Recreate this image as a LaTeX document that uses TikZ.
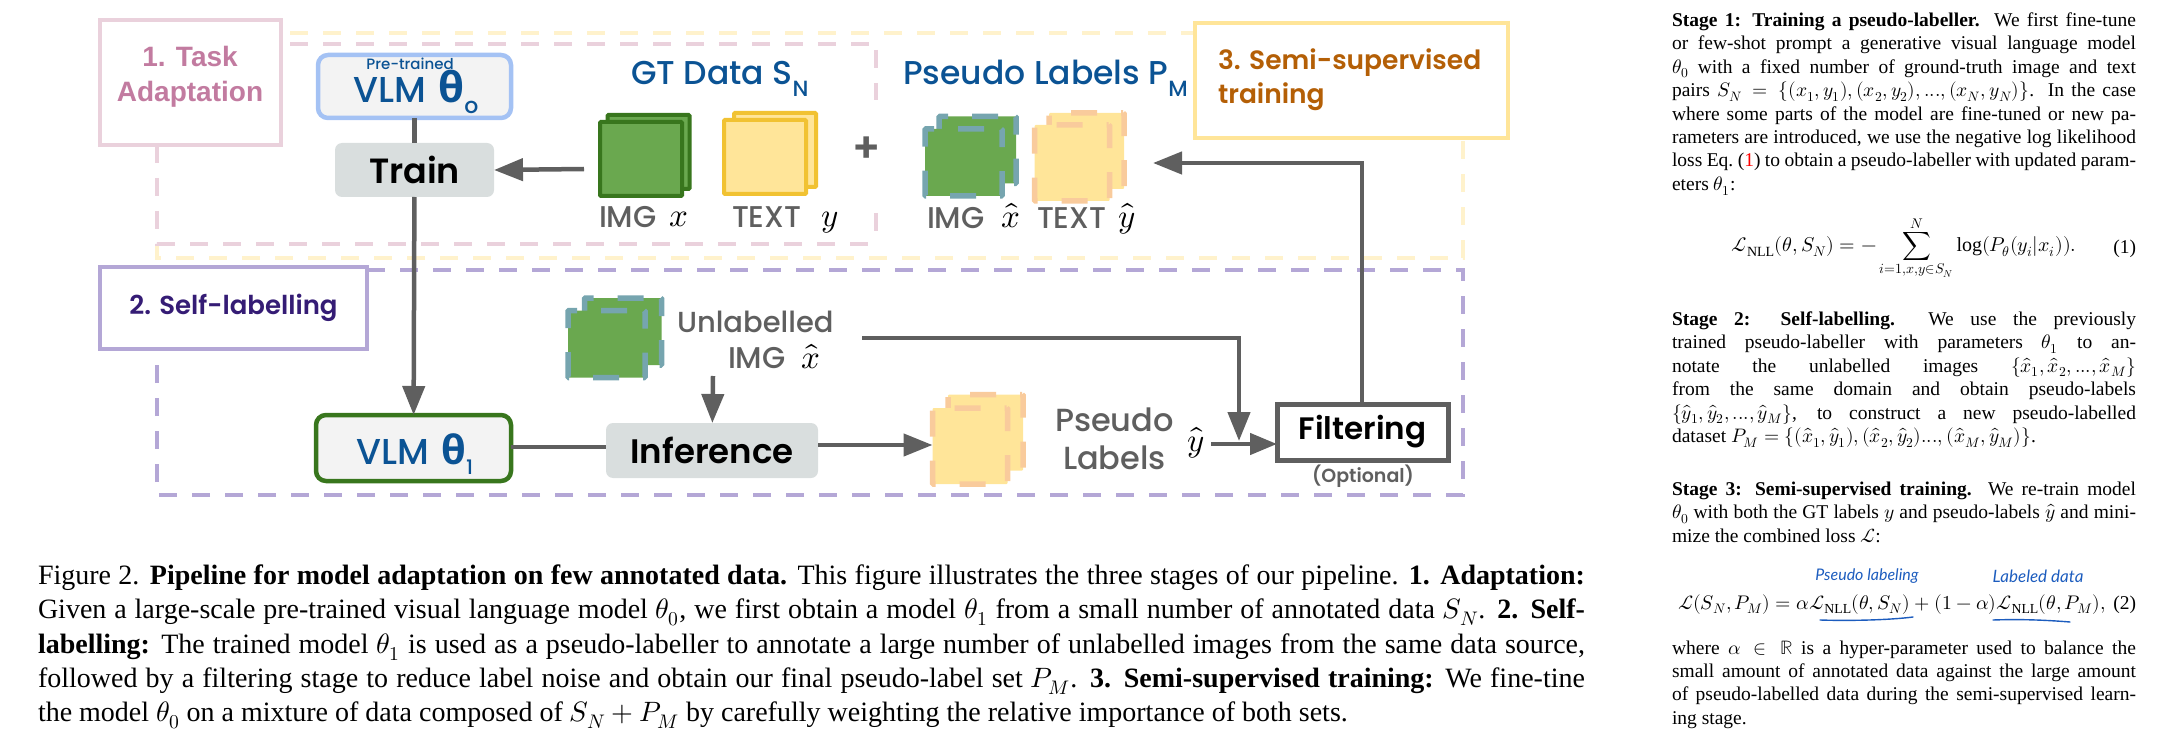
\documentclass[tikz,border=0pt]{standalone}
\usepackage{amsmath}
\usepackage{amssymb}
\usepackage{fontspec}
\usepackage{unicode-math}
\setmainfont{Liberation Serif}
\setmathfont{Latin Modern Math}
\newfontfamily\figfont[BoldFont={Poppins SemiBold}]{Poppins Medium}
\newfontfamily\stagefont{Liberation Sans}
\newfontfamily\thetafont{Open Sans}
\newfontfamily\handfont{Lato}
\usetikzlibrary{arrows.meta}

\definecolor{pinkline}{HTML}{EAD1DC}
\definecolor{pinktext}{HTML}{C27BA0}
\definecolor{yellowdash}{HTML}{FFF2CC}
\definecolor{yellowline}{HTML}{FFE599}
\definecolor{yellowedge}{HTML}{F1C232}
\definecolor{orangetext}{HTML}{B45F06}
\definecolor{orangedash}{HTML}{F9CB9C}
\definecolor{purpleline}{HTML}{B4A7D6}
\definecolor{purpletext}{HTML}{351C75}
\definecolor{bluetext}{HTML}{0B5394}
\definecolor{blueline}{HTML}{A4C2F4}
\definecolor{greenedge}{HTML}{38761D}
\definecolor{greenfill}{HTML}{6AA84F}
\definecolor{tealdash}{HTML}{76A5AF}
\definecolor{flowgrey}{HTML}{5F5F5F}
\definecolor{boxgrey}{HTML}{D9DEDE}
\definecolor{vlmfill}{HTML}{F3F3F3}
\definecolor{penblue}{HTML}{1C5CBE}

\newcommand{\fsz}[1]{\fontsize{#1}{#1}\selectfont}

\tikzset{
  box/.style={rectangle, inner sep=0pt, outer sep=0pt},
  stagebox/.style={box, draw, line width=4pt, fill=white},
  vlm/.style={box, draw, line width=4.5pt, fill=vlmfill, rounded corners=10pt},
  action/.style={box, fill=boxgrey, rounded corners=7pt, text=black},
  card/.style={box, draw, line width=4pt, rounded corners=1pt},
  dashcard/.style={box, draw, line width=5.5pt, rounded corners=1pt},
  greencard/.style={card, draw=greenedge, fill=greenfill, minimum width=82pt, minimum height=74pt},
  yellowcard/.style={card, draw=yellowedge, fill=yellowline, minimum width=82pt, minimum height=74pt},
  tealcard/.style={dashcard, draw=tealdash, fill=greenfill, minimum width=77pt, minimum height=67pt,
    dash pattern=on 26pt off 24pt, dash phase=33pt},
  orangecard/.style={dashcard, draw=orangedash, fill=yellowline, minimum width=75pt, minimum height=76pt,
    dash pattern=on 26pt off 24pt, dash phase=24pt},
  greytext/.style={box, text=flowgrey, font=\figfont},
  frame/.style={line width=4pt, dash pattern=on 18pt off 15pt},
  flow/.style={draw=flowgrey, line width=4.5pt, -{Triangle[length=29pt,width=22pt]}},
  link/.style={draw=flowgrey, line width=4.5pt},
  para/.style={box, anchor=north west, align=justify, text width=464pt, font=\fontsize{19.5}{23.45}\selectfont},
  pen/.style={draw=penblue, line width=1.4pt, line cap=round}
}

\begin{document}
\begin{tikzpicture}[x=1pt,y=-1pt]
  \useasboundingbox (0,0) rectangle (2157,730);

  % Dashed frames
  \draw[frame, draw=yellowdash] (157,145) -- (157,258) -- (1463,258) -- (1463,140);
  \draw[frame, draw=yellowdash] (290,33) -- (1195,33);
  \draw[frame, draw=pinkline] (157,145) -- (157,244) -- (873,244);
  \draw[frame, draw=pinkline] (290,44) -- (870,44);
  \draw[frame, draw=pinkline] (876,50) -- (876,100);
  \draw[frame, draw=pinkline] (876,213) -- (876,232);
  \draw[frame, draw=purpleline] (367,270) -- (1463,270) -- (1463,495) -- (157,495) -- (157,349);

  % Stage boxes
  \node[stagebox, draw=pinkline, minimum width=181pt, minimum height=125pt] (taskbox) at (190.5,82.5) {};
  \node[box, align=center, text=pinktext, font=\stagefont\bfseries\fontsize{28}{35}\selectfont] (tasktext)
    at (190,77) {1. Task\\Adaptation};
  \node[stagebox, draw=purpleline, minimum width=267pt, minimum height=82pt, text=purpletext,
    font=\figfont\fsz{26}] (selfbox) at (233.5,308) {\textbf{2. Self-labelling}};
  \node[stagebox, draw=yellowline, minimum width=313pt, minimum height=115pt] (semibox) at (1351.5,80.5) {};
  \node[box, anchor=west, align=left, text=orangetext, font=\figfont\bfseries\fontsize{26.5}{34}\selectfont] (semitext)
    at (1218,80) {3. Semi-supervised\\training};

  % Model and action nodes
  \node[vlm, draw=blueline, minimum width=193pt, minimum height=63pt] (vlma) at (414.5,86.5) {};
  \node[box, text=bluetext, font=\figfont\fsz{15}] (pretrained) at (410,64) {Pre-trained};
  \node[box, text=bluetext, font=\figfont\fsz{36}, anchor=base] (vlmatext) at (416,103)
    {VLM\,\,{\thetafont\bfseries\fsz{42}θ}\raisebox{-11pt}{\fsz{22}o}};
  \node[action, minimum width=159pt, minimum height=54pt, font=\figfont\bfseries\fsz{35}] (train) at (414.5,170) {Train};
  \node[vlm, draw=greenedge, minimum width=195pt, minimum height=66pt] (vlmb) at (413.5,448) {};
  \node[box, text=bluetext, font=\figfont\fsz{36}, anchor=base] (vlmbtext) at (415,464)
    {VLM\,\,{\thetafont\bfseries\fsz{40}θ}\raisebox{-10pt}{\fsz{20}1}};
  \node[action, minimum width=212pt, minimum height=55pt, font=\figfont\bfseries\fsz{34}] (inference) at (712,450.5) {Inference};
  \node[box, draw=flowgrey, line width=5pt, fill=white, minimum width=171pt, minimum height=56pt,
    font=\figfont\bfseries\fsz{31}] (filtering) at (1362.5,432) {Filtering};
  \node[greytext, font=\figfont\bfseries\fsz{19}] (optional) at (1363,476) {(Optional)};

  % Data headings
  \node[box, text=bluetext, font=\figfont\fsz{33}, anchor=base west] (gtdata) at (631,85)
    {GT Data S\raisebox{-12pt}{\fsz{22}N}};
  \node[box, text=bluetext, font=\figfont\fsz{33}, anchor=base west] (pseudohead) at (903,85)
    {Pseudo Labels P\raisebox{-12pt}{\fsz{22}M}};

  % Image and text cards
  \node[greencard] (imgback) at (648.5,152) {};
  \node[greencard] (imgfront) at (641,159) {};
  \node[yellowcard] (textback) at (775,150) {};
  \node[yellowcard] (textfront) at (765,157) {};
  \node[tealcard] (pimgback) at (977.5,150) {};
  \node[tealcard] (pimgfront) at (963.5,162.5) {};
  \node[orangecard] (ptextback) at (1086.5,151) {};
  \node[orangecard] (ptextfront) at (1072,163) {};
  \node[tealcard] (uimgback) at (623,331.5) {};
  \node[tealcard] (uimgfront) at (606.5,344) {};
  \node[orangecard] (plabelback) at (985.5,432.5) {};
  \node[orangecard] (plabelfront) at (970,446) {};

  % Card captions
  \node[greytext, font=\figfont\fsz{30}, anchor=base west] (imgx) at (599,227) {IMG};
  \node[box, font=\fsz{33}, anchor=base west] (imgxm) at (669,226) {$x$};
  \node[greytext, font=\figfont\fsz{30}, anchor=base west] (texty) at (732,227) {TEXT};
  \node[box, font=\fsz{33}, anchor=base west] (textym) at (821,226) {$y$};
  \node[box, text=flowgrey, font=\figfont\bfseries\fsz{42}] (plus) at (867,150) {+};
  \node[greytext, font=\figfont\fsz{30}, anchor=base west] (pimgx) at (927,229) {IMG};
  \node[box, font=\fsz{33}, anchor=base west] (pimgxm) at (1001,228) {$\hat{x}$};
  \node[greytext, font=\figfont\fsz{30}, anchor=base west] (ptexty) at (1037,229) {TEXT};
  \node[box, font=\fsz{33}, anchor=base west] (ptextym) at (1118,228) {$\hat{y}$};
  \node[greytext, font=\figfont\fsz{29}, anchor=base west] (unlabelled) at (677,332) {Unlabelled};
  \node[greytext, font=\figfont\fsz{30}, anchor=base west] (uimgx) at (728,368) {IMG};
  \node[box, font=\fsz{33}, anchor=base west] (uimgxm) at (801,368) {$\hat{x}$};
  \node[greytext, font=\figfont\fsz{32}, anchor=base west] (pseudotext) at (1055,431) {Pseudo};
  \node[greytext, font=\figfont\fsz{32}, anchor=base west] (labelstext) at (1063,469) {Labels};
  \node[box, font=\fsz{33}, anchor=base west] (yhat) at (1187,451) {$\hat{y}$};
  \coordinate (uimgout) at (713,376);
  \coordinate (ulineout) at (862,338);
  \coordinate (ulinebend) at (1239,338);
  \coordinate (ulinetip) at (1239,441);
  \coordinate (yhatout) at (1211,444);
  \coordinate (filterbend) at (1362,163);
  \coordinate (ptip) at (1153,163);
  \coordinate (imgout) at (584,169);

  % Connect the nodes
  \draw[link] (vlma) -- (train);
  \draw[flow] (train) -- (vlmb);
  \draw[flow] (imgout) -- (train.east);
  \draw[flow] (uimgout) -- (inference);
  \draw[link] (vlmb.east |- 0,447) -- (inference.west |- 0,447);
  \draw[flow] (inference.east |- 0,445) -- (plabelfront.west |- 0,445);
  \draw[flow] (ulineout) -- (ulinebend) -- (ulinetip);
  \draw[flow, -{Triangle[length=27pt,width=21pt]}] (yhatout) -- (filtering.west |- yhatout);
  \draw[flow] (filtering.north -| filterbend) -- (filterbend) -- (ptip);

  % Column text
  \node[para] (stageone) at (1672,12.5) {\noindent
    \textbf{Stage 1: Training a pseudo-labeller.}\ \ We first fine-tune\linebreak
    or few-shot prompt a generative visual language model\linebreak
    $\theta_0$ with a fixed number of ground-truth image and text\linebreak
    pairs $S_N=\{(x_1,y_1),(x_2,y_2),...,(x_N,y_N)\}$. In the case\linebreak
    where some parts of the model are fine-tuned or new pa-\linebreak
    rameters are introduced, we use the negative log likelihood\linebreak
    loss Eq.~(\textcolor{red}{1}) to obtain a pseudo-labeller with updated param-\linebreak
    eters $\theta_1$:};
  \node[box, font=\fontsize{20}{23.45}\selectfont] (eqone) at (1904,248)
    {$\displaystyle\mathcal{L}_{\text{NLL}}(\theta,S_N)=-\sum_{i=1,x,y\in S_N}^{N}\log(P_\theta(y_i|x_i)).$};
  \node[box, anchor=base east, font=\fontsize{19.5}{23.45}\selectfont] (eqonetag) at (2136,253) {(1)};
  \node[para] (stagetwo) at (1672,311.5) {\noindent
    \textbf{Stage 2: Self-labelling.}\ \ We use the previously\linebreak
    trained pseudo-labeller with parameters $\theta_1$ to an-\linebreak
    notate the unlabelled images $\{\hat{x}_1,\hat{x}_2,...,\hat{x}_M\}$\linebreak
    from the same domain and obtain pseudo-labels\linebreak
    $\{\hat{y}_1,\hat{y}_2,...,\hat{y}_M\}$, to construct a new pseudo-labelled\linebreak
    dataset $P_M=\{(\hat{x}_1,\hat{y}_1),(\hat{x}_2,\hat{y}_2)...,(\hat{x}_M,\hat{y}_M)\}$.};
  \node[para] (stagethree) at (1672,482) {\noindent
    \textbf{Stage 3: Semi-supervised training.}\ \ We re-train model\linebreak
    $\theta_0$ with both the GT labels $y$ and pseudo-labels $\hat{y}$ and mini-\linebreak
    mize the combined loss $\mathcal{L}$:};
  \node[box, anchor=base, font=\fontsize{19.7}{23.45}\selectfont] (eqtwo) at (1892,609)
    {$\mathcal{L}(S_N,P_M)=\alpha\mathcal{L}_{\text{NLL}}(\theta,S_N)+(1-\alpha)\mathcal{L}_{\text{NLL}}(\theta,P_M),$};
  \node[box, anchor=base east, font=\fontsize{19.5}{23.45}\selectfont] (eqtwotag) at (2136,609) {(2)};
  \node[para] (closing) at (1672,640.5) {\noindent
    where $\alpha\in\mathbb{R}$ is a hyper-parameter used to balance the\linebreak
    small amount of annotated data against the large amount\linebreak
    of pseudo-labelled data during the semi-supervised learn-\linebreak
    ing stage.};

  % Pen notes
  \node[box, text=penblue, font=\handfont\itshape\fsz{16}] (notepseudo) at (1867,576) {Pseudo labeling};
  \node[box, text=penblue, font=\handfont\itshape\fsz{17}] (notelabeled) at (2038,576) {Labeled data};
  \draw[pen] (1820,620) .. controls (1850,621) and (1890,620) .. (1913,617);
  \draw[pen] (1993,620) .. controls (2020,619) and (2045,620) .. (2070,622);

  % Caption
  \node[box, anchor=north west, align=justify, text width=1547pt, font=\fontsize{28}{34.25}\selectfont] (caption) at (38,565) {\noindent
    Figure 2. \textbf{Pipeline for model adaptation on few annotated data.} This figure illustrates the three stages of our pipeline. \textbf{1. Adaptation:}\linebreak
    Given a large-scale pre-trained visual language model $\theta_0$, we first obtain a model $\theta_1$ from a small number of annotated data $S_N$. \textbf{2. Self-}\linebreak
    \textbf{labelling:} The trained model $\theta_1$ is used as a pseudo-labeller to annotate a large number of unlabelled images from the same data source,\linebreak
    followed by a filtering stage to reduce label noise and obtain our final pseudo-label set $P_M$. \textbf{3. Semi-supervised training:} We fine-tine\linebreak
    the model $\theta_0$ on a mixture of data composed of $S_N+P_M$ by carefully weighting the relative importance of both sets.};

\end{tikzpicture}
\end{document}
